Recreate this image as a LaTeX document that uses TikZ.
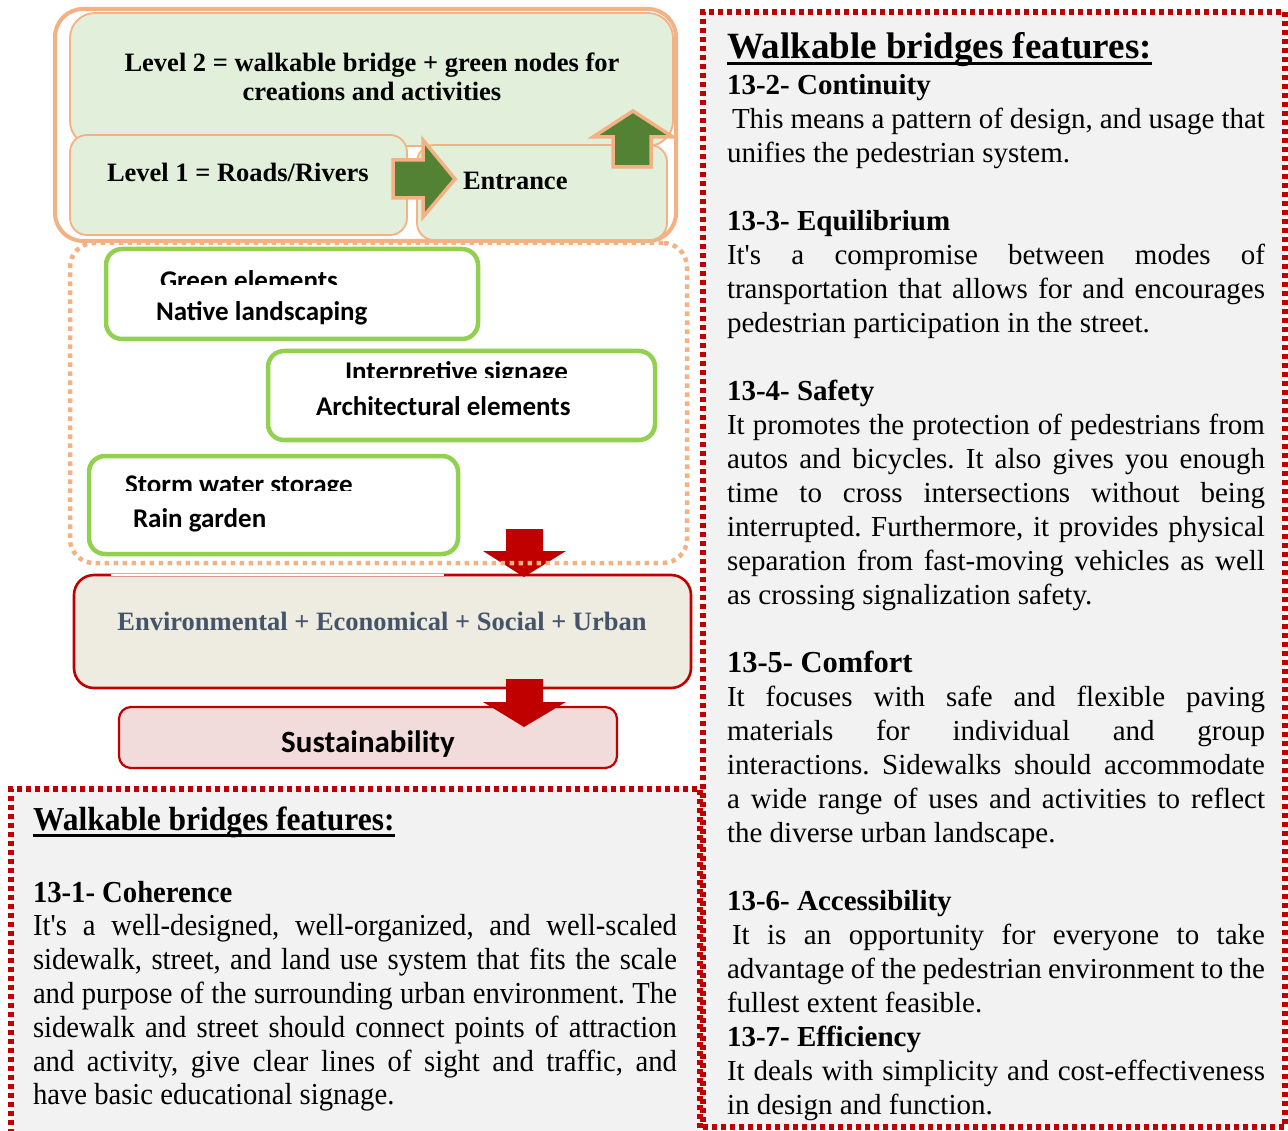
\documentclass[tikz,border=0pt]{standalone}
\usepackage{fontspec}
\setmainfont{Liberation Serif}
\newfontfamily\calb{Carlito}
\newfontfamily\condserif[FakeStretch=0.94]{Liberation Serif}
\definecolor{orng}{HTML}{F4B183}
\definecolor{lgreen}{HTML}{E2EFDA}
\definecolor{dgreen}{HTML}{548235}
\definecolor{gbord}{HTML}{92D050}
\definecolor{redc}{HTML}{C00000}
\definecolor{envfill}{HTML}{EEECE1}
\definecolor{envtxt}{HTML}{44546A}
\definecolor{sustfill}{HTML}{F2DCDB}
\definecolor{lgray}{HTML}{F2F2F2}
\frenchspacing
\newcommand\placebox[6]{\node[#2,anchor=north west,inner sep=0pt,outer sep=0pt,minimum width={(#5-#3)*1pt},minimum height={(#6-#4)*1pt}] (#1) at (#3,#4) {};}
\tikzset{
  outerframe/.style={draw=orng,line width=4pt,rounded corners=28pt},
  lvlbox/.style={draw=orng,line width=1.8pt,fill=lgreen,rounded corners=17pt},
  gbox/.style={draw=gbord,line width=4.5pt,fill=white,rounded corners=16pt},
  odots/.style={draw=orng,line width=4.5pt,dash pattern=on 4.5pt off 4.5pt,rounded corners=24pt},
  envbox/.style={draw=redc,line width=2.6pt,fill=envfill,rounded corners=20pt},
  sustbox/.style={draw=redc,line width=2.2pt,fill=sustfill,rounded corners=12pt},
  graybox/.style={draw=redc,fill=lgray,line width=5.5pt,dash pattern=on 5pt off 4pt},
  grnarrow/.style={fill=dgreen,draw=orng,line width=3.5pt,line join=miter},
  redarrow/.style={fill=redc,draw=none},
  lbl/.style={inner sep=0pt,outer sep=0pt},
  lvltxt/.style={lbl,font=\fontsize{26.5}{29}\selectfont\bfseries},
  caltxt/.style={lbl,font=\calb\bfseries\fontsize{27}{30}\selectfont},
}
\begin{document}
\begin{tikzpicture}[x=1pt,y=-1pt]
\useasboundingbox (0,0) rectangle (1288,1131);
\fill[white] (0,0) rectangle (1288,1131);

% text panels
\placebox{leftpanel}{graybox}{11}{789}{700}{1150}
\placebox{rightpanel}{graybox}{703}{12}{1285}{1127}

% top-left levels
\placebox{frame}{outerframe}{55}{9}{676}{241}
\placebox{lvltwo}{lvlbox,rounded corners=25pt}{70}{13}{673}{146}
\placebox{lvlone}{lvlbox}{70}{135}{407}{235}
\placebox{entr}{lvlbox}{417}{145}{667}{240}
\node[lvltxt,anchor=base] (lt2a) at (372,72) {Level 2 = walkable bridge + green nodes for};
\node[lvltxt,anchor=base] (lt2b) at (372,101) {creations and activities};
\node[lvltxt,anchor=base west] (lt1) at (107,182) {Level 1 = Roads/Rivers};
\node[lvltxt,anchor=base west] (ent) at (463,190) {Entrance};
\draw[grnarrow] (393,160) -- (423,160) -- (423,140) -- (455,179) -- (423,217) -- (423,198) -- (393,198) -- cycle;
\draw[grnarrow] (613,167) -- (613,137) -- (593,137) -- (633,111) -- (673,137) -- (651,137) -- (651,167) -- cycle;

% green element boxes
\placebox{gone}{gbox}{106}{249}{478}{339}
\placebox{gtwo}{gbox}{268}{351}{655}{440}
\placebox{gthree}{gbox}{89}{456}{458}{554}
\begin{scope}
\clip (110,252) rectangle (470,285);
\node[caltxt,anchor=base west] (ge) at (160,290) {Green elements};
\end{scope}
\node[caltxt,anchor=base west] (nl) at (156,321) {Native landscaping};
\begin{scope}
\clip (272,354) rectangle (650,378);
\node[caltxt,anchor=base west] (is) at (345,381) {Interpretive signage};
\end{scope}
\node[caltxt,anchor=base west] (ae) at (316,416) {Architectural elements};
\begin{scope}
\clip (93,459) rectangle (450,490);
\node[caltxt,anchor=base west] (sw) at (125,493) {Storm water storage};
\end{scope}
\node[caltxt,anchor=base west] (rg) at (133,527) {Rain garden};

% environmental box
\placebox{env}{envbox}{74}{575}{691}{688}
\draw[white,line width=2.6pt] (111,575) -- (444,575);
\node[lvltxt,text=envtxt,anchor=base] (envt) at (382,630) {Environmental + Economical + Social + Urban};
\fill[redarrow] (506,529) -- (543,529) -- (543,551) -- (566,551) -- (524,577) -- (483,551) -- (506,551) -- cycle;
\placebox{zone}{odots}{70}{243}{687}{563}

% sustainability
\placebox{sust}{sustbox}{119}{707}{617}{768}
\fill[redarrow] (506,679) -- (543,679) -- (543,702) -- (566,702) -- (524,727) -- (483,702) -- (506,702) -- cycle;
\node[lbl,font=\calb\bfseries\fontsize{31}{34}\selectfont,anchor=base] (sustt) at (368,752) {Sustainability};

% right panel text
\node[lbl,anchor=base west,font=\fontsize{37}{40}\selectfont\bfseries] (rtitle) at (727,59) {Walkable bridges features:};
\draw[line width=3pt] ([yshift=-4.5pt]rtitle.base west) -- ([yshift=-4.5pt]rtitle.base east);
\node[lbl,anchor=base west,text width=538pt,align=justify,font=\fontsize{29}{34}\selectfont] (rbody) at (727,95) {%
{\bfseries 13-2- Continuity}\par
\hspace*{5pt}This means a pattern of design, and usage that\linebreak unifies the pedestrian system.\par
\vspace{34pt}%
{\bfseries 13-3- Equilibrium}\par
It\textquotesingle s a compromise between modes of\linebreak transportation that allows for and encourages\linebreak pedestrian participation in the street.\par
\vspace{34pt}%
{\bfseries 13-4- Safety}\par
It promotes the protection of pedestrians from\linebreak autos and bicycles. It also gives you enough\linebreak time to cross intersections without being\linebreak interrupted. Furthermore, it provides physical\linebreak separation from fast-moving vehicles as well\linebreak as crossing signalization safety.\par
\vspace{34pt}%
{\fontsize{30.5}{34}\selectfont\bfseries 13-5- Comfort}\par
It focuses with safe and flexible paving\linebreak materials for individual and group\linebreak interactions. Sidewalks should accommodate\linebreak a wide range of uses and activities to reflect\linebreak the diverse urban landscape.\par
\vspace{34pt}%
{\bfseries 13-6- Accessibility}\par
\hspace*{5pt}It is an opportunity for everyone to take\linebreak advantage of the pedestrian environment to the\linebreak fullest extent feasible.\par
{\bfseries 13-7- Efficiency}\par
It deals with simplicity and cost-effectiveness\linebreak in design and function.};

% left panel text
\node[lbl,anchor=base west,font=\condserif\bfseries\fontsize{33.5}{36}\selectfont] (ltitle) at (33,830) {Walkable bridges features:};
\draw[line width=3pt] ([yshift=-5pt]ltitle.base west) -- ([yshift=-5pt]ltitle.base east);
\node[lbl,anchor=base west,text width=644pt,align=justify,font=\condserif\fontsize{30.5}{33.8}\selectfont] (lbody) at (33,902) {%
{\bfseries 13-1- Coherence}\par
It\textquotesingle s a well-designed, well-organized, and well-scaled\linebreak sidewalk, street, and land use system that fits the scale\linebreak and purpose of the surrounding urban environment. The\linebreak sidewalk and street should connect points of attraction\linebreak and activity, give clear lines of sight and traffic, and\linebreak have basic educational signage.};
\end{tikzpicture}
\end{document}
